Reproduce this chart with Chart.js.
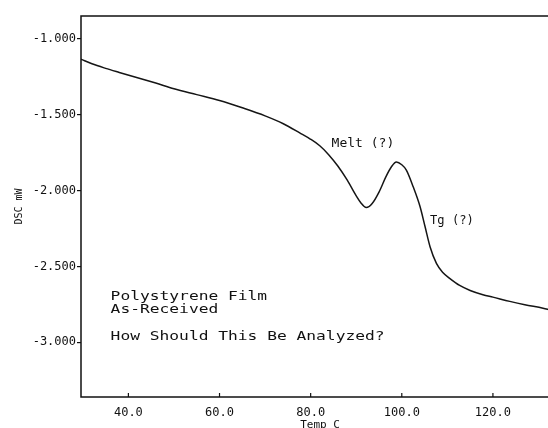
<!DOCTYPE html>
<html>
<head>
<meta charset="utf-8">
<script src="https://cdn.jsdelivr.net/npm/chart.js@4"></script>
<style>
  html, body { margin: 0; padding: 0; background: #fff; overflow: hidden; }
  #wrap { width: 560px; height: 428px; }
</style>
</head>
<body>
<div id="wrap"><canvas id="dsc-chart" width="560" height="428"></canvas></div>
<script>
// DSC trace
const temps = [29.6, 32, 35, 38, 42, 46, 50, 55, 60, 65, 70, 74, 77.6, 80, 82, 84, 86, 88, 90, 91,
    92.2, 93.5, 95, 96.5, 97.8, 98.8, 100, 101, 102.5, 104, 105.1, 106.2, 107.6, 109, 110.5,
    112.7, 115, 117.8, 120, 123.7, 127, 131, 134.5];
const dsc = [-1.135, -1.165, -1.195, -1.222, -1.257, -1.292, -1.329, -1.368, -1.407, -1.455, -1.508,
    -1.560, -1.620, -1.662, -1.705, -1.765, -1.84, -1.93, -2.035, -2.08,
    -2.112, -2.085, -2.01, -1.91, -1.84, -1.812, -1.83, -1.865, -1.975, -2.105, -2.237, -2.37, -2.48,
    -2.54, -2.578, -2.625, -2.658, -2.686, -2.702, -2.73, -2.752, -2.775, -2.80];

const xTicks = [40, 60, 80, 100, 120];
const yTicks = [-1.0, -1.5, -2.0, -2.5, -3.0];

const meltLabel = 'Melt (?)';
const tgLabel = 'Tg (?)';
const noteLines = ['Polystyrene Film', 'As-Received'];
const question = 'How Should This Be Analyzed?';

const MONO = '"DejaVu Sans Mono", "Liberation Mono", monospace';

// plotter lettering is wide and short, so stretch it sideways
function wideText(ctx, text, x, y, sx) {
    ctx.save();
    ctx.translate(x, y);
    ctx.scale(sx, 1);
    ctx.fillText(text, 0, 0);
    ctx.restore();
}

const framePlugin = {
    id: 'frame',
    afterDraw(chart) {
        const ctx = chart.ctx;
        const a = chart.chartArea;
        const xs = chart.scales.x;
        const ys = chart.scales.y;
        ctx.save();
        ctx.strokeStyle = '#111';
        ctx.lineWidth = 1.5;
        ctx.strokeRect(a.left, a.top, a.right - a.left, a.bottom - a.top);

        // inward tick marks on the temperature axis
        ctx.lineWidth = 1.2;
        xTicks.forEach(function (t) {
            const px = xs.getPixelForValue(t);
            ctx.beginPath();
            ctx.moveTo(px, a.bottom);
            ctx.lineTo(px, a.bottom - 4);
            ctx.stroke();
        });

        ctx.fillStyle = '#111';
        ctx.textBaseline = 'alphabetic';
        ctx.textAlign = 'left';

        ctx.font = '13px ' + MONO;
        wideText(ctx, meltLabel, xs.getPixelForValue(84.6), ys.getPixelForValue(-1.712), 1.0);
        wideText(ctx, tgLabel, xs.getPixelForValue(106.2), ys.getPixelForValue(-2.219), 0.93);

        const left = xs.getPixelForValue(36.1);
        wideText(ctx, noteLines[0], left, ys.getPixelForValue(-2.719), 1.25);
        wideText(ctx, noteLines[1], left, ys.getPixelForValue(-2.807), 1.25);
        wideText(ctx, question, left, ys.getPixelForValue(-2.982), 1.25);
        ctx.restore();
    }
};

const ctx = document.getElementById('dsc-chart').getContext('2d');

const dscChart = new Chart(ctx, {
    type: 'line',
    data: {
        datasets: [{
            label: 'DSC',
            data: temps.map(function (t, i) { return { x: t, y: dsc[i] }; }),
            borderColor: '#151515',
            borderWidth: 1.5,
            pointRadius: 0,
            fill: false,
            tension: 0.4,
            cubicInterpolationMode: 'monotone'
        }]
    },
    options: {
        responsive: false,
        animation: false,
        devicePixelRatio: 1,
        layout: { padding: { top: 16, right: 1, left: 0, bottom: 0 } },
        plugins: {
            legend: { display: false },
            tooltip: { enabled: false }
        },
        scales: {
            x: {
                type: 'linear',
                min: 29.6,
                max: 134.5,
                afterBuildTicks: function (scale) {
                    scale.ticks = xTicks.map(function (v) { return { value: v }; });
                },
                afterFit: function (scale) { scale.height = 31; },
                grid: { display: false, drawTicks: false, tickLength: 0 },
                border: { display: false },
                ticks: {
                    color: '#111',
                    padding: 9,
                    maxRotation: 0,
                    font: { family: MONO, size: 12 },
                    callback: function (v) { return Number(v).toFixed(1); }
                },
                title: {
                    display: true,
                    text: 'Temp C',
                    color: '#111',
                    font: { family: MONO, size: 11 },
                    padding: { top: 0, bottom: -4 }
                }
            },
            y: {
                min: -3.36,
                max: -0.85,
                afterBuildTicks: function (scale) {
                    scale.ticks = yTicks.map(function (v) { return { value: v }; });
                },
                afterFit: function (scale) { scale.width = 81; },
                grid: {
                    drawOnChartArea: false,
                    drawTicks: true,
                    tickLength: 4,
                    color: '#111',
                    lineWidth: 1.2
                },
                border: { display: false },
                ticks: {
                    color: '#111',
                    padding: 1,
                    font: { family: MONO, size: 12 },
                    callback: function (v) { return Number(v).toFixed(3); }
                },
                title: {
                    display: true,
                    text: 'DSC mW',
                    color: '#111',
                    font: { family: MONO, size: 10 },
                    padding: { top: 13, bottom: 0 }
                }
            }
        }
    },
    plugins: [framePlugin]
});
</script>
</body>
</html>
